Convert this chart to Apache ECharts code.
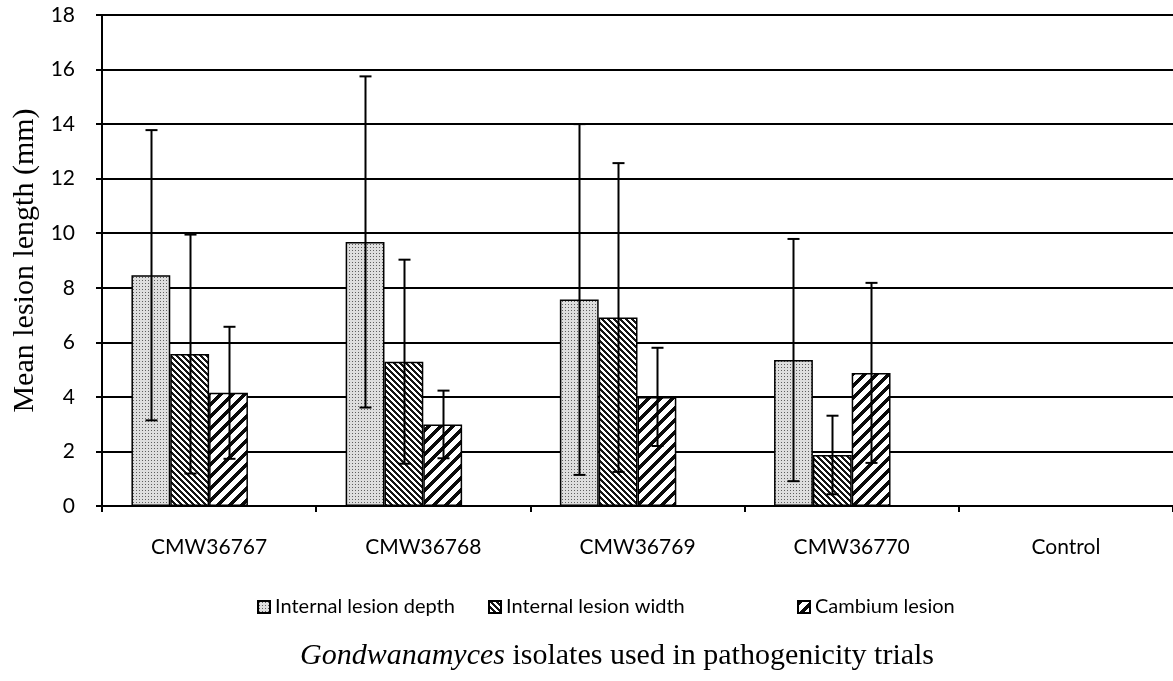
<!DOCTYPE html>
<html>
<head>
<meta charset="utf-8">
<script src="https://cdn.jsdelivr.net/npm/echarts@6/dist/echarts.min.js"></script>
<style>
  html, body { margin: 0; padding: 0; background: #fff; }
  #chart { width: 1173px; height: 681px; }
</style>
</head>
<body>
<div id="chart"></div>
<script>
const isolates = ['CMW36767', 'CMW36768', 'CMW36769', 'CMW36770', 'Control']
const seriesNames = ['Internal lesion depth', 'Internal lesion width', 'Cambium lesion']

// means (mm)
const depthMean = [8.46, 9.68, 7.57, 5.35, '-']
const widthMean = [5.57, 5.29, 6.91, 1.87, '-']
const cambiumMean = [4.15, 2.99, 4.0, 4.88, '-']

// error bar half-lengths (mm)
const depthErr = [5.32, 6.07, 6.43, 4.44, '-']
const widthErr = [4.38, 3.74, 5.66, 1.44, '-']
const cambiumErr = [2.42, 1.24, 1.8, 3.3, '-']

const yTicks = [0, 2, 4, 6, 8, 10, 12, 14, 16, 18]

// little pixel tiles used as bar fills
function makeTile(size, paint) {
    const c = document.createElement('canvas')
    c.width = size
    c.height = size
    const ctx = c.getContext('2d')
    const img = ctx.createImageData(size, size)
    for (let y = 0; y < size; y++) {
        for (let x = 0; x < size; x++) {
            const v = paint(x, y)
            const i = (y * size + x) * 4
            img.data[i] = v
            img.data[i + 1] = v
            img.data[i + 2] = v
            img.data[i + 3] = 255
        }
    }
    ctx.putImageData(img, 0, 0)
    return c
}

const dotTile = makeTile(3, (x, y) => (x === 1 && y === 1) ? 95 : 222)
const backTile = makeTile(6, (x, y) => ((x - y + 12) % 6) < 3 ? 20 : 255)
const fwdTile = makeTile(12, (x, y) => ((x + y) % 12) < 5 ? 10 : 255)

const fills = [
    { image: dotTile, repeat: 'repeat' },
    { image: backTile, repeat: 'repeat' },
    { image: fwdTile, repeat: 'repeat' }
]
const means = [depthMean, widthMean, cambiumMean]
const errs = [depthErr, widthErr, cambiumErr]

const nSlots = 4          // Excel layout keeps an empty 4th slot
const gapRatio = 0.275

const chart = echarts.init(document.getElementById('chart'))

const barSeries = seriesNames.map((name, k) => ({
    name: name,
    type: 'bar',
    data: means[k],
    barGap: 0,
    barCategoryGap: (gapRatio * 100) + '%',
    itemStyle: { color: fills[k], borderColor: '#000', borderWidth: 1.5 },
    z: 2
}))

barSeries.push({
    name: 'pad',
    type: 'bar',
    data: isolates.map(() => '-'),
    barGap: 0,
    barCategoryGap: (gapRatio * 100) + '%',
    itemStyle: { color: 'transparent', borderWidth: 0 }
})

const errData = []
for (let k = 0; k < 3; k++) {
    for (let i = 0; i < isolates.length; i++) {
        if (means[k][i] === '-') continue
        errData.push([i, means[k][i], errs[k][i], k])
    }
}

const errSeries = {
    type: 'custom',
    name: 'err',
    data: errData,
    z: 5,
    renderItem(params, api) {
        const i = api.value(0)
        const m = api.value(1)
        const e = api.value(2)
        const k = api.value(3)
        const band = api.size([1, 0])[0]
        const bw = band * (1 - gapRatio) / nSlots
        const c = api.coord([i, m])
        const x = Math.round(c[0] - band * (1 - gapRatio) / 2 + bw * (k + 0.5)) + 0.5
        const yTop = api.coord([i, m + e])[1]
        const yBot = api.coord([i, Math.max(m - e, 0)])[1]
        const cap = 6
        const st = { stroke: '#000', lineWidth: 2 }
        return {
            type: 'group',
            children: [
                { type: 'line', shape: { x1: x, y1: yTop, x2: x, y2: yBot }, style: st },
                { type: 'line', shape: { x1: x - cap, y1: yTop, x2: x + cap, y2: yTop }, style: st },
                { type: 'line', shape: { x1: x - cap, y1: yBot, x2: x + cap, y2: yBot }, style: st }
            ]
        }
    }
}

// one legend per entry, Excel spaces them unevenly
const legendLeft = [257, 488, 797]
const legends = seriesNames.map((name, k) => ({
    data: [name],
    top: 597,
    left: legendLeft[k],
    padding: 0,
    itemWidth: 12,
    itemHeight: 12,
    icon: 'rect',
    textStyle: { fontSize: 20, color: '#000' },
    selectedMode: false
}))

const option = {
    animation: false,
    backgroundColor: '#fff',
    textStyle: { fontFamily: 'Lato, "Noto Sans", sans-serif' },
    grid: { left: 102, right: -4, top: 15, bottom: 175 },
    title: {
        text: '{i|Gondwanamyces} isolates used in pathogenicity trials',
        left: 300,
        top: 641,
        padding: 0,
        textStyle: {
            fontFamily: '"Liberation Serif", serif',
            fontSize: 30,
            fontWeight: 'normal',
            color: '#000',
            rich: {
                i: { fontFamily: '"Liberation Serif", serif', fontStyle: 'italic', fontSize: 30, color: '#000' }
            }
        }
    },
    legend: legends,
    xAxis: {
        type: 'category',
        data: isolates,
        axisLine: { lineStyle: { color: '#000', width: 2 } },
        axisTick: { show: true, length: 6, lineStyle: { color: '#000', width: 2 } },
        axisLabel: { fontSize: 21, color: '#000', margin: 31 },
        splitLine: { show: false }
    },
    yAxis: {
        type: 'value',
        min: 0,
        max: yTicks[yTicks.length - 1],
        interval: 2,
        name: 'Mean lesion length (mm)',
        nameLocation: 'middle',
        nameGap: 60,
        nameTextStyle: { fontFamily: '"Liberation Serif", serif', fontSize: 30, color: '#000' },
        axisLine: { show: true, lineStyle: { color: '#000', width: 2 } },
        axisTick: { show: true, length: 6, lineStyle: { color: '#000', width: 2 } },
        axisLabel: { fontSize: 21, color: '#000', margin: 27 },
        splitLine: { lineStyle: { color: '#000', width: 2 } }
    },
    series: barSeries.concat([errSeries])
}

chart.setOption(option)
</script>
</body>
</html>
